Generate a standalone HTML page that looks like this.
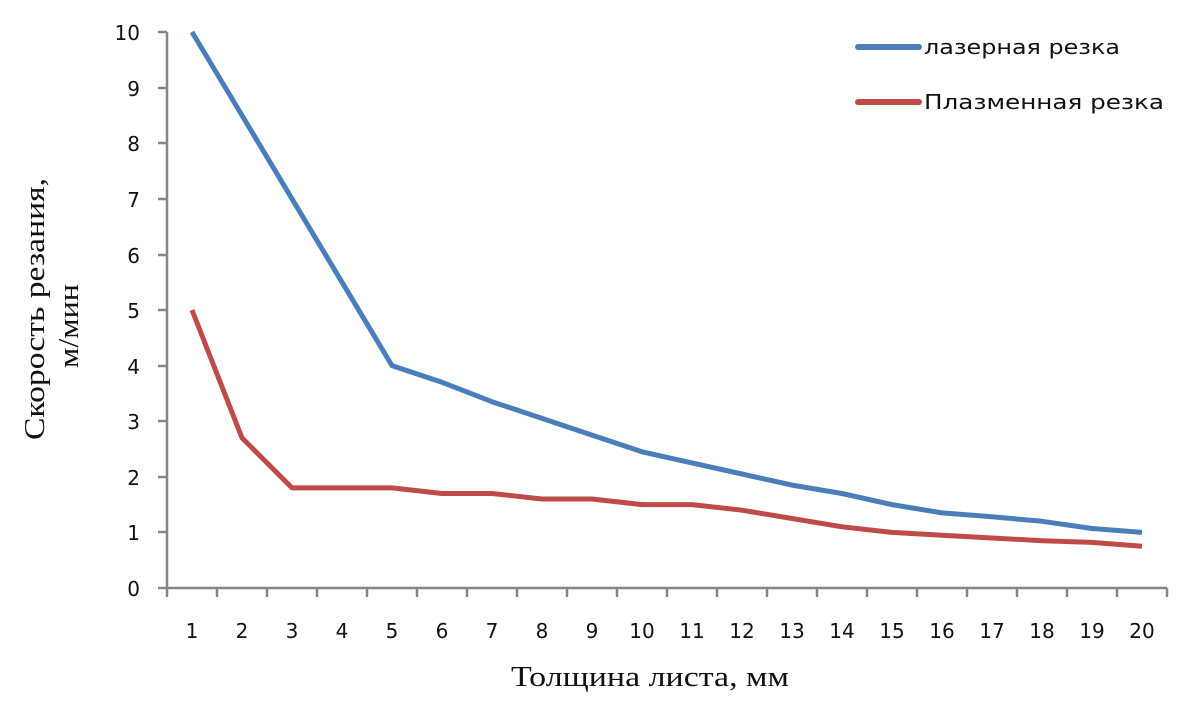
<!DOCTYPE html>
<html><head><meta charset="utf-8"><style>body{margin:0;background:#fff}</style></head><body>
<svg width="1200" height="719" xmlns="http://www.w3.org/2000/svg">
<g stroke="#868686" stroke-width="2.5" fill="none">
<line x1="167" y1="32" x2="167" y2="589"/>
<line x1="158" y1="588" x2="1167" y2="588"/>
<path d="M158 32H167M158 88H167M158 143H167M158 199H167M158 255H167M158 310H167M158 366H167M158 421H167M158 477H167M158 532H167"/>
<path d="M167 588v9M217 588v9M267 588v9M317 588v9M367 588v9M417 588v9M467 588v9M517 588v9M567 588v9M617 588v9M667 588v9M717 588v9M767 588v9M817 588v9M867 588v9M917 588v9M967 588v9M1017 588v9M1067 588v9M1117 588v9M1167 588v9"/>
</g>
<g font-family="DejaVu Sans, sans-serif" font-size="20" fill="#111" text-anchor="end">
<text x="140" y="596">0</text><text x="140" y="540">1</text><text x="140" y="485">2</text><text x="140" y="429">3</text><text x="140" y="374">4</text><text x="140" y="318">5</text><text x="140" y="263">6</text><text x="140" y="207">7</text><text x="140" y="151">8</text><text x="140" y="96">9</text><text x="140" y="40">10</text>
</g>
<g font-family="DejaVu Sans, sans-serif" font-size="20" fill="#111" text-anchor="middle">
<text x="192" y="638">1</text><text x="242" y="638">2</text><text x="292" y="638">3</text><text x="342" y="638">4</text><text x="392" y="638">5</text><text x="442" y="638">6</text><text x="492" y="638">7</text><text x="542" y="638">8</text><text x="592" y="638">9</text><text x="642" y="638">10</text><text x="692" y="638">11</text><text x="742" y="638">12</text><text x="792" y="638">13</text><text x="842" y="638">14</text><text x="892" y="638">15</text><text x="942" y="638">16</text><text x="992" y="638">17</text><text x="1042" y="638">18</text><text x="1092" y="638">19</text><text x="1142" y="638">20</text>
</g>
<text x="511" y="686" font-family="Liberation Serif, serif" font-size="28" fill="#111" textLength="278" lengthAdjust="spacingAndGlyphs">Толщина листа, мм</text>
<g font-family="Liberation Serif, serif" font-size="28" fill="#111" transform="rotate(-90)">
<text x="-440" y="44" textLength="262" lengthAdjust="spacingAndGlyphs">Скорость резания,</text>
<text x="-368" y="78" textLength="84" lengthAdjust="spacingAndGlyphs">м/мин</text>
</g>
<polyline fill="none" stroke="#4a7ebb" stroke-width="5" stroke-linejoin="round" points="192,32 242,115.4 292,198.8 342,282.2 392,365.6 442,382.3 492,401.7 542,418.4 592,435.1 642,451.8 692,462.9 742,474 792,485.1 842,493.5 892,504.6 942,512.9 992,516.8 1042,521.3 1092,528.5 1142,532.4"/>
<polyline fill="none" stroke="#be4b48" stroke-width="5" stroke-linejoin="round" points="192,310 242,437.9 292,487.9 342,487.9 392,487.9 442,493.5 492,493.5 542,499 592,499 642,504.6 692,504.6 742,510.2 792,518.5 842,526.8 892,532.4 942,535.2 992,538 1042,540.7 1092,542.4 1142,546.3"/>
<line x1="858" y1="47" x2="919" y2="47" stroke="#4a7ebb" stroke-width="6" stroke-linecap="round"/>
<line x1="858" y1="102" x2="919" y2="102" stroke="#be4b48" stroke-width="6" stroke-linecap="round"/>
<g font-family="DejaVu Sans, sans-serif" font-size="20" fill="#111">
<text x="924" y="54" textLength="196" lengthAdjust="spacingAndGlyphs">лазерная резка</text>
<text x="924" y="109" textLength="240" lengthAdjust="spacingAndGlyphs">Плазменная резка</text>
</g>
</svg>
</body></html>
